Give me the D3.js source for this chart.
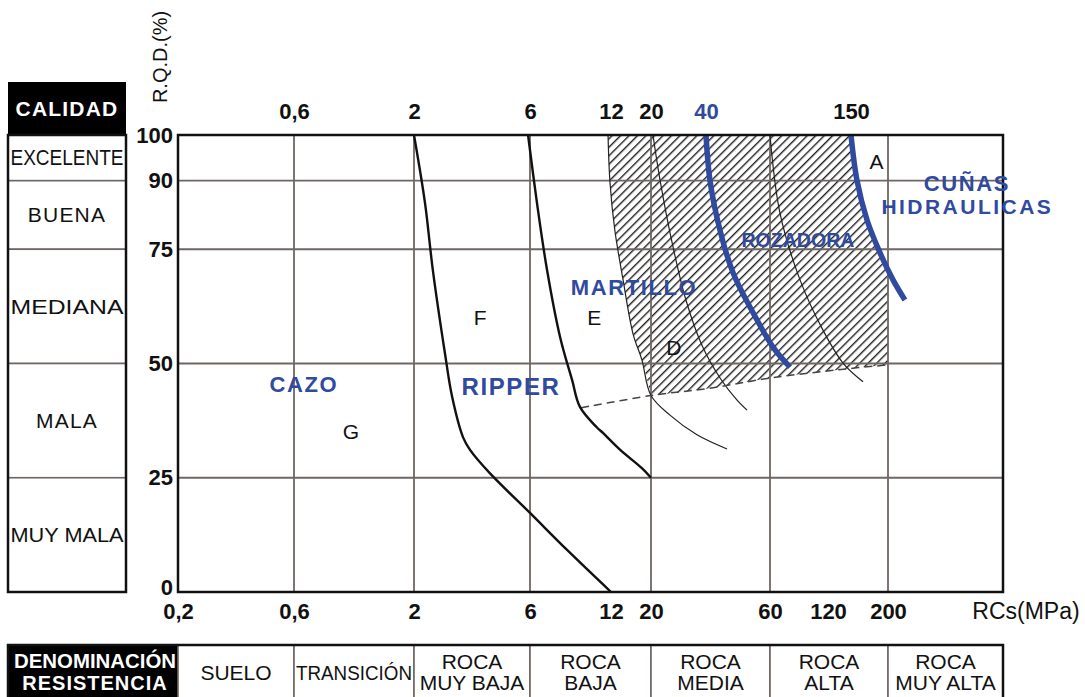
<!DOCTYPE html>
<html>
<head>
<meta charset="utf-8">
<script src="https://cdn.jsdelivr.net/npm/d3@7"></script>
<style>
  body { margin: 0; background: #fff; }
  svg { display: block; font-family: "Liberation Sans", Arial, sans-serif; }
</style>
</head>
<body>
<div id="chart"></div>
<script>
/* DATA */
const rqdTicks = [0, 25, 50, 75, 90, 100];
const gridRqd = [25, 50, 75, 90];
const gridRcs = [0.6, 2, 6, 20, 60, 200];
const topTickValues = [0.6, 2, 6, 12, 20, 40, 150];
const topTickBlue = [40];
const bottomTickValues = [0.2, 0.6, 2, 6, 12, 20, 60, 120, 200];

const calidadNames = ["EXCELENTE", "BUENA", "MEDIANA", "MALA", "MUY MALA"];
const calidadFrom = [90, 75, 50, 25, 0];
const calidadTo = [100, 90, 75, 50, 25];

const resistNames = [["SUELO"], ["TRANSICIÓN"], ["ROCA", "MUY BAJA"], ["ROCA", "BAJA"],
  ["ROCA", "MEDIA"], ["ROCA", "ALTA"], ["ROCA", "MUY ALTA"]];
const resistFrom = [0.2, 0.6, 2, 6, 20, 60, 200];
const resistTo = [0.6, 2, 6, 20, 60, 200, 600];

// curves [RCs MPa, RQD %]
const curveF = [[2, 100], [2.22, 85.1], [2.39, 70.5], [2.68, 52.3], [2.87, 42.7], [3.18, 33.9],
  [3.4, 31.1], [4.1, 26], [6, 17.3], [8.24, 9.2], [12, 0]];
const curveE = [[5.89, 100], [6.37, 85.1], [6.94, 70.5], [7.76, 55.8], [8.6, 46.4], [9.2, 40.5],
  [10.6, 36.1], [11.2, 34.8], [13.5, 31.1], [17.8, 27.1], [20, 25]];
const hatchLeft = [[11.7, 100], [11.9, 89.5], [12.6, 79.2], [14, 68.3], [15.9, 56.5], [17.8, 50.8], [20, 43]];
const curveD1Tail = [[25.4, 38.7], [35.7, 34.4], [45.7, 31.3]];
const curveD2 = [[20.5, 100], [22.4, 90.2], [26.4, 75.5], [31, 64], [38, 54], [44, 46.5], [48.7, 42], [51.9, 39.8]];
const curveD3 = [[60, 100], [67.6, 82.9], [85.9, 68.3], [113, 57.3], [138.8, 50.1], [164.7, 46]];
const dashedLimit = [[9.3, 40.3], [20, 43], [41, 44.6], [60, 46.8], [131, 48.6], [200, 49.7]];
const rozadora = [[40, 100], [41, 90.2], [43.7, 79.2], [47.5, 69.8], [53.9, 61.1], [62.2, 53.6], [76.2, 49.2]];
const cunas = [[150, 100], [157, 90.2], [169.9, 81.4], [188, 74.2], [209.8, 68.3], [235, 63.9]];
const cunasAt200 = [200, 70.9];

const zoneLetters = [["A", 183, 94.2], ["D", 26.7, 53.4], ["E", 10.4, 60], ["F", 3.74, 60], ["G", 1.063, 35.2]];
const machineLabels = [["CAZO", 0.663, 45.5], ["RIPPER", 5.01, 44.9], ["MARTILLO", 16.1, 66.7],
  ["ROZADORA", 83.8, 77], ["CUÑAS", 425, 89.4], ["HIDRAULICAS", 425, 84.4]];

/* LAYOUT */
const width = 1085, height = 697;
const plot = { left: 178, right: 1003, top: 135, bottom: 592 };
const blue = "#2f4a9e", gridColor = "#6e6663";
const font = "'Liberation Sans', Arial, sans-serif";

// the printed axis is not a strict log axis, so it is piecewise-log between labelled values
const xBreaks = [0.2, 0.6, 2, 6, 12, 20, 40, 60, 120, 150, 200, 600];
const xPos = [178, 294, 414, 530, 611, 651, 706, 770, 828, 851, 888, 1003];

const xScale = d3.scaleLog().domain(xBreaks).range(xPos);
const yScale = d3.scaleLinear().domain([0, 100]).range([plot.bottom, plot.top]);

const fmt = v => String(v).replace(".", ",");

const svg = d3.select("#chart").append("svg")
  .attr("width", width).attr("height", height)
  .style("background", "#fff");

const defs = svg.append("defs");
const pat = defs.append("pattern")
  .attr("id", "hatch")
  .attr("patternUnits", "userSpaceOnUse")
  .attr("width", 6).attr("height", 6)
  .attr("patternTransform", "rotate(45)");
pat.append("line").attr("x1", 0.7).attr("y1", 0).attr("x2", 0.7).attr("y2", 6)
  .attr("stroke", "#1e1e1e").attr("stroke-width", 1.4);

defs.append("clipPath").attr("id", "plotClip")
  .append("rect")
  .attr("x", plot.left).attr("y", plot.top)
  .attr("width", plot.right - plot.left).attr("height", plot.bottom - plot.top);

const line = d3.line()
  .x(d => xScale(d[0]))
  .y(d => yScale(d[1]))
  .curve(d3.curveCatmullRom.alpha(0.5));
const straight = d3.line().x(d => xScale(d[0])).y(d => yScale(d[1]));

const g = svg.append("g").attr("clip-path", "url(#plotClip)");

// hatched zone
const cunasPart = cunas.filter(d => d[0] < 200).reverse();
const hatchPath = line(hatchLeft)
  + line(dashedLimit.slice(1)).replace(/^M/, "L")
  + straight([cunasAt200]).replace(/^M/, "L")
  + line([cunasAt200].concat(cunasPart)).replace(/^M/, "L")
  + "Z";
g.append("path").attr("d", hatchPath).attr("fill", "url(#hatch)");

// grid
g.selectAll(".gx").data(gridRcs).join("line")
  .attr("x1", d => xScale(d)).attr("x2", d => xScale(d))
  .attr("y1", plot.top).attr("y2", plot.bottom)
  .attr("stroke", gridColor).attr("stroke-width", 1.8);
g.selectAll(".gy").data(gridRqd).join("line")
  .attr("y1", d => yScale(d)).attr("y2", d => yScale(d))
  .attr("x1", plot.left).attr("x2", plot.right)
  .attr("stroke", gridColor).attr("stroke-width", 1.8);

// thin curves
[hatchLeft.concat(curveD1Tail), curveD2, curveD3].forEach(c => {
  g.append("path").attr("d", line(c)).attr("fill", "none")
    .attr("stroke", "#222").attr("stroke-width", 1.2);
});

// dashed limit
g.append("path").attr("d", line(dashedLimit)).attr("fill", "none")
  .attr("stroke", "#444").attr("stroke-width", 1.5).attr("stroke-dasharray", "8,5");

// ripper limits
[curveF, curveE].forEach(c => {
  g.append("path").attr("d", line(c)).attr("fill", "none")
    .attr("stroke", "#111").attr("stroke-width", 2.4);
});

// machine limits
[rozadora, cunas].forEach(c => {
  g.append("path").attr("d", line(c)).attr("fill", "none")
    .attr("stroke", blue).attr("stroke-width", 5.5).attr("stroke-linecap", "butt");
});

// border
svg.append("rect")
  .attr("x", plot.left).attr("y", plot.top)
  .attr("width", plot.right - plot.left).attr("height", plot.bottom - plot.top)
  .attr("fill", "none").attr("stroke", "#111").attr("stroke-width", 2.5);

// zone letters
svg.selectAll(".zone").data(zoneLetters).join("text")
  .attr("x", d => xScale(d[1])).attr("y", d => yScale(d[2]))
  .attr("text-anchor", "middle").attr("dominant-baseline", "central")
  .attr("font-size", 21).attr("fill", "#111")
  .text(d => d[0]);

// machine labels
const ml = svg.selectAll(".machine").data(machineLabels).join("text")
  .attr("x", d => xScale(d[1])).attr("y", d => yScale(d[2]))
  .attr("text-anchor", "middle").attr("dominant-baseline", "central")
  .attr("font-weight", "bold").attr("fill", blue)
  .attr("font-size", d => d[0] === "RIPPER" ? 24 : (d[0] === "ROZADORA" ? 20 : (d[0].length > 5 && d[0] !== "MARTILLO" ? 21 : 22)))
  .attr("letter-spacing", d => d[0] === "ROZADORA" ? 0 : 1.6)
  .text(d => d[0]);
ml.filter(d => d[0] === "ROZADORA")
  .attr("textLength", 113).attr("lengthAdjust", "spacingAndGlyphs");
ml.filter(d => d[0] === "HIDRAULICAS")
  .attr("textLength", 171).attr("lengthAdjust", "spacing");

// axes
const yAxis = d3.axisLeft(yScale).tickValues(rqdTicks).tickSize(0).tickPadding(5).tickFormat(fmt);
const topAxis = d3.axisTop(xScale).tickValues(topTickValues).tickSize(0).tickPadding(16).tickFormat(fmt);
const bottomAxis = d3.axisBottom(xScale).tickValues(bottomTickValues).tickSize(0).tickPadding(11).tickFormat(fmt);

[[yAxis, `translate(${plot.left},0)`], [topAxis, `translate(0,${plot.top})`],
 [bottomAxis, `translate(0,${plot.bottom})`]].forEach(([ax, tr]) => {
  const a = svg.append("g").attr("transform", tr).call(ax);
  a.select(".domain").remove();
  a.selectAll("text")
    .attr("font-family", font).attr("font-size", 22).attr("font-weight", "bold")
    .attr("fill", d => (ax === topAxis && topTickBlue.includes(d)) ? blue : "#111");
  if (ax === yAxis) a.selectAll("text").filter(d => d === 0).attr("dy", "0.1em");
});

svg.append("text")
  .attr("x", 1026).attr("y", 619)
  .attr("text-anchor", "middle").attr("font-size", 23).attr("fill", "#111")
  .text("RCs(MPa)");

svg.append("text")
  .attr("transform", "translate(167,57) rotate(-90)")
  .attr("text-anchor", "middle").attr("font-size", 20).attr("fill", "#111")
  .text("R.Q.D.(%)");

// CALIDAD table
const tbl = { left: 8, right: 126, headTop: 82 };
svg.append("rect")
  .attr("x", tbl.left).attr("y", tbl.headTop)
  .attr("width", tbl.right - tbl.left).attr("height", yScale(100) - tbl.headTop)
  .attr("fill", "#000");
svg.append("text")
  .attr("x", (tbl.left + tbl.right) / 2).attr("y", (tbl.headTop + yScale(100)) / 2)
  .attr("text-anchor", "middle").attr("dominant-baseline", "central")
  .attr("font-size", 21).attr("font-weight", "bold").attr("fill", "#fff")
  .attr("letter-spacing", 1.2)
  .text("CALIDAD");

const rows = svg.selectAll(".cal").data(calidadNames).join("g");
rows.append("rect")
  .attr("x", tbl.left).attr("width", tbl.right - tbl.left)
  .attr("y", (d, i) => yScale(calidadTo[i]))
  .attr("height", (d, i) => yScale(calidadFrom[i]) - yScale(calidadTo[i]))
  .attr("fill", "#fff").attr("stroke", gridColor).attr("stroke-width", 1.6);
rows.append("text")
  .attr("x", (tbl.left + tbl.right) / 2)
  .attr("y", (d, i) => (yScale(calidadFrom[i]) + yScale(calidadTo[i])) / 2)
  .attr("text-anchor", "middle").attr("dominant-baseline", "central")
  .attr("font-size", d => d === "EXCELENTE" ? 22 : 21).attr("fill", "#111")
  .attr("letter-spacing", d => d.length <= 5 ? 1.2 : 0)
  .each(function (d) {
    if (d.length >= 7) d3.select(this).attr("textLength", 113).attr("lengthAdjust", "spacingAndGlyphs");
  })
  .text(d => d);
svg.append("rect")
  .attr("x", tbl.left).attr("y", yScale(100))
  .attr("width", tbl.right - tbl.left).attr("height", yScale(0) - yScale(100))
  .attr("fill", "none").attr("stroke", "#111").attr("stroke-width", 2.5);

// RESISTENCIA table
const rt = { top: 645, bottom: 697, headLeft: 8 };
svg.append("rect")
  .attr("x", rt.headLeft).attr("y", rt.top)
  .attr("width", xScale(0.2) - rt.headLeft).attr("height", rt.bottom - rt.top)
  .attr("fill", "#000");
svg.append("text")
  .attr("x", (rt.headLeft + xScale(0.2)) / 2 + 2).attr("y", 668)
  .attr("text-anchor", "middle").attr("font-size", 20).attr("font-weight", "bold").attr("fill", "#fff")
  .attr("textLength", 162).attr("lengthAdjust", "spacingAndGlyphs")
  .text("DENOMINACIÓN");
svg.append("text")
  .attr("x", (rt.headLeft + xScale(0.2)) / 2 + 2).attr("y", 690)
  .attr("text-anchor", "middle").attr("font-size", 20).attr("font-weight", "bold").attr("fill", "#fff")
  .attr("letter-spacing", 1)
  .text("RESISTENCIA");

const cells = svg.selectAll(".res").data(resistNames).join("g");
cells.append("rect")
  .attr("x", (d, i) => xScale(resistFrom[i]))
  .attr("width", (d, i) => xScale(resistTo[i]) - xScale(resistFrom[i]))
  .attr("y", rt.top).attr("height", rt.bottom - rt.top + 4)
  .attr("fill", "#fff").attr("stroke", gridColor).attr("stroke-width", 1.6);
cells.each(function (d, i) {
  const cx = (xScale(resistFrom[i]) + xScale(resistTo[i])) / 2;
  const lines = d.length === 1 ? [680] : [669, 690];
  d.forEach((t, k) => {
    const tx = d3.select(this).append("text")
      .attr("x", cx).attr("y", lines[k])
      .attr("text-anchor", "middle").attr("font-size", 21).attr("fill", "#111")
      .text(t);
    const w = tx.node().getComputedTextLength();
    const maxW = xScale(resistTo[i]) - xScale(resistFrom[i]) - 4;
    if (w > maxW) tx.attr("textLength", maxW).attr("lengthAdjust", "spacingAndGlyphs");
  });
});
svg.append("rect")
  .attr("x", rt.headLeft).attr("y", rt.top)
  .attr("width", xScale(600) - rt.headLeft).attr("height", rt.bottom - rt.top + 4)
  .attr("fill", "none").attr("stroke", "#111").attr("stroke-width", 2.5);
</script>
</body>
</html>
